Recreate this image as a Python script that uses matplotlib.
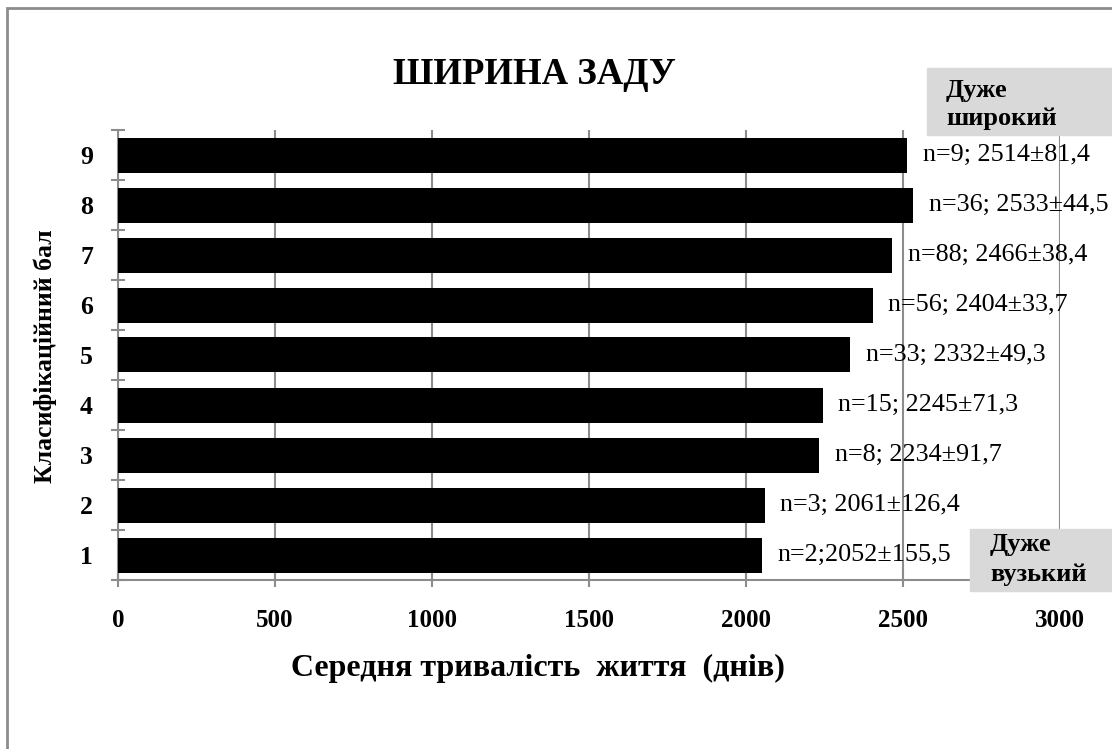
import matplotlib
matplotlib.use("Agg")
import matplotlib.pyplot as plt
from matplotlib.patches import Rectangle
import numpy as np

plt.rcParams['font.family'] = ['Liberation Serif', 'DejaVu Serif']

# Середня тривалість життя за класифікаційним балом
scores = [1, 2, 3, 4, 5, 6, 7, 8, 9]
means = [2052, 2061, 2234, 2245, 2332, 2404, 2466, 2533, 2514]
errors = ["155,5", "126,4", "91,7", "71,3", "49,3", "33,7", "38,4", "44,5", "81,4"]
counts = [2, 3, 8, 15, 33, 56, 88, 36, 9]
separators = [";", "; ", "; ", "; ", "; ", "; ", "; ", "; ", "; "]
xticks = [0, 500, 1000, 1500, 2000, 2500, 3000]

W, H = 1112, 749
fig = plt.figure(figsize=(W / 100, H / 100), dpi=100)
ax = fig.add_axes([118 / W, 1 - 580 / H, (1060 - 118) / W, (580 - 130) / H])

grey = '#8c8c8c'
ax.barh(scores, means, height=0.7, color='black', zorder=3)

ax.set_xlim(0, 3000)
ax.set_ylim(0.5, 9.5)
ax.set_xticks(xticks)
ax.xaxis.grid(True, color=grey, lw=1.5, zorder=0)
ax.set_axisbelow(True)

ax.set_yticks(scores)
ax.set_yticks(np.arange(0.5, 10, 1), minor=True)
ax.tick_params(axis='y', which='major', length=0, pad=18, labelsize=18.5)
ax.tick_params(axis='y', which='minor', direction='inout', length=10, color=grey, width=1.5)
ax.tick_params(axis='x', direction='inout', length=10, color=grey, width=1.5, pad=16, labelsize=18)
for lab in ax.get_xticklabels() + ax.get_yticklabels():
    lab.set_fontweight('bold')

for s in ('top', 'right'):
    ax.spines[s].set_visible(False)
for s in ('left', 'bottom'):
    ax.spines[s].set_color(grey)
    ax.spines[s].set_linewidth(1.5)

for y, m, e, n, sep in zip(scores, means, errors, counts, separators):
    ax.annotate(f"n={n}{sep}{m}±{e}", xy=(m, y), xytext=(11, 0),
                textcoords='offset points', va='center', ha='left',
                fontsize=18.8, zorder=4)

fig.text(538 / W, 1 - 668 / H, "Середня тривалість  життя  (днів)", ha='center',
         va='center', fontsize=23, fontweight='bold')
fig.text(45 / W, 1 - 356 / H, "Класифікаційний бал", ha='center', va='center',
         rotation=90, fontsize=18.5, fontweight='bold')

fig.text(534 / W, 1 - 75 / H, "ШИРИНА ЗАДУ", ha='center', va='center',
         fontsize=26.5, fontweight='bold')

# підписи крайніх значень шкали
fig.patches.append(Rectangle((927 / W, 1 - 135 / H), (W - 927) / W, 67 / H,
                             transform=fig.transFigure, color='#d9d9d9', zorder=5))
fig.text(946 / W, 1 - 91 / H, "Дуже", fontsize=19, fontweight='bold',
         va='center', zorder=6)
fig.text(946 / W, 1 - 118 / H, "широкий", fontsize=19, fontweight='bold',
         va='center', zorder=6)

fig.patches.append(Rectangle((970 / W, 1 - 591 / H), (W - 970) / W, 62 / H,
                             transform=fig.transFigure, color='#d9d9d9', zorder=5))
fig.text(990 / W, 1 - 545 / H, "Дуже", fontsize=19, fontweight='bold',
         va='center', zorder=6)
fig.text(990 / W, 1 - 575 / H, "вузький", fontsize=19, fontweight='bold',
         va='center', zorder=6)

# рамка діаграми
fig.patches.append(Rectangle((7 / W, -0.1), 1.2, 1 - 8 / H + 0.1,
                             transform=fig.transFigure, fill=False,
                             edgecolor=grey, lw=2, zorder=1))

fig.savefig("out.png", dpi=100)
